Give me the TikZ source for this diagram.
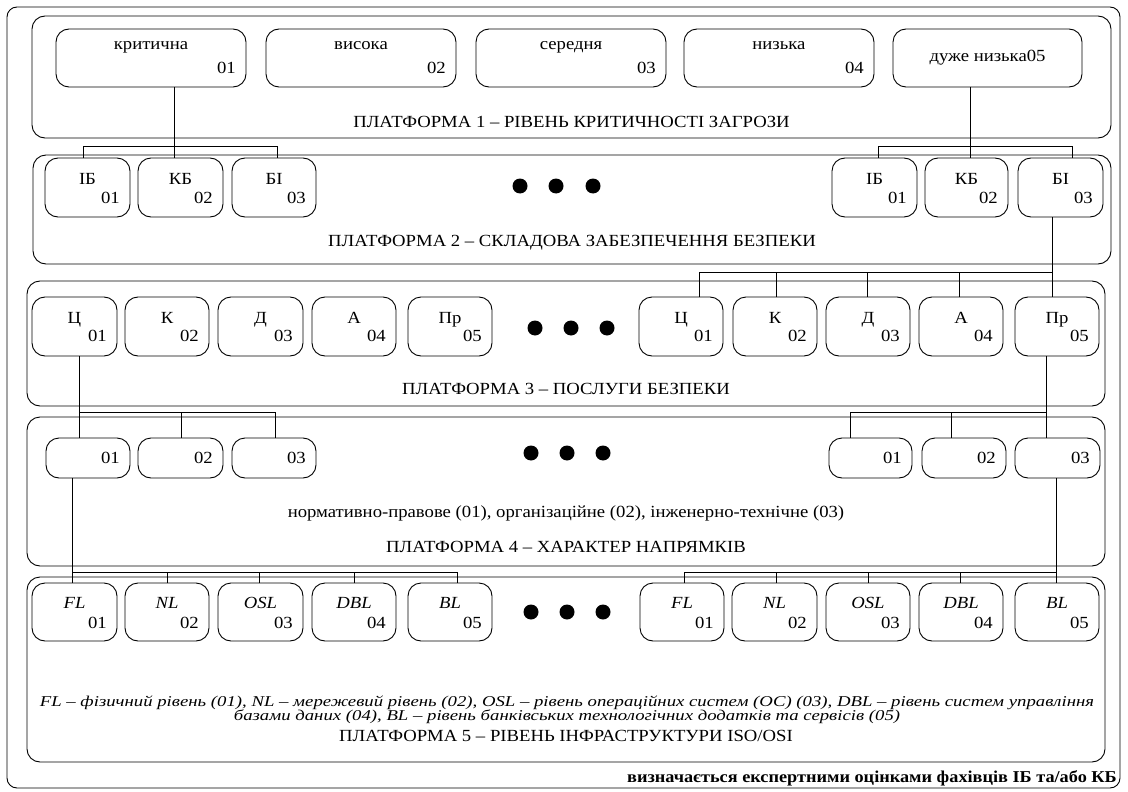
\documentclass[tikz,border=0pt]{standalone}
\usepackage{fontspec}
\setmainfont{Liberation Serif}[FakeStretch=1.1]
\newfontfamily\legf{Liberation Serif}[FakeStretch=1.25]
\usetikzlibrary{calc}
\newcommand\bxa[9]{%
  \node[bx, minimum width={(#4-#2)*1pt}, minimum height={(#5-#3)*1pt}] (#1) at ({(#2+#4)/2},{(#3+#5)/2}) {};
  \node[txt] (#1-l) at ([yshift=-#8pt]#1.north) {#6};
  \node[txt, anchor=east] (#1-n) at ([xshift=-10pt, yshift=-#9pt]#1.north east) {#7};
}
\newcommand\bxn[6]{%
  \node[bx, minimum width={(#4-#2)*1pt}, minimum height={(#5-#3)*1pt}] (#1) at ({(#2+#4)/2},{(#3+#5)/2}) {};
  \node[txt, anchor=east] (#1-n) at ([xshift=-10pt, yshift=-2pt]#1.east) {#6};
}
\newcommand\frm[5]{%
  \node[plat, minimum width={(#4-#2)*1pt}, minimum height={(#5-#3)*1pt}] (#1) at ({(#2+#4)/2},{(#3+#5)/2}) {};
}
\tikzset{
  every node/.style={font=\fontsize{17}{20}\selectfont},
  plat/.style={draw, rounded corners=13pt, line width=0.9pt, inner sep=0, outer sep=0},
  bx/.style={draw, rounded corners=13pt, inner sep=0, outer sep=0, line width=0.9pt},
  txt/.style={inner sep=0, text height=0.7em, text depth=0pt},
  con/.style={line width=0.9pt},
  dot/.style={circle, fill, inner sep=0, minimum size=15pt},
}
\begin{document}
\begin{tikzpicture}[x=1pt, y=-1pt]
\useasboundingbox (0,0) rectangle (1128,792);
\draw[line width=0.9pt, rounded corners=10pt] (7,7) rectangle (1120,788);
% platforms
\frm{P1}{32}{16}{1111}{138}
\frm{P2}{33}{155}{1111}{264}
\frm{P3}{27}{281}{1105}{406}
\frm{P4}{27}{417}{1105}{566}
\frm{P5}{27}{577}{1105}{762}
% platform 1
\bxa{p1a}{56}{29}{246}{87}{критична}{01}{17}{41}
\bxa{p1b}{266}{29}{456}{87}{висока}{02}{17}{41}
\bxa{p1c}{476}{29}{666}{87}{середня}{03}{17}{41}
\bxa{p1d}{684}{29}{874}{87}{низька}{04}{17}{41}
\node[bx, minimum width=189pt, minimum height=58pt] (p1e) at (987.5,58) {};
\node[txt] (p1e-l) at (p1e.center) {дуже низька05};
\node (t1) at ([yshift=16pt]P1.south) {ПЛАТФОРМА 1 – РІВЕНЬ КРИТИЧНОСТІ ЗАГРОЗИ};
% platform 2
\bxa{p2a}{45}{158}{130}{217}{ІБ}{01}{23}{42}
\bxa{p2b}{138}{158}{223}{217}{КБ}{02}{23}{42}
\bxa{p2c}{232}{158}{316}{217}{БІ}{03}{23}{42}
\bxa{p2d}{832}{158}{917}{217}{ІБ}{01}{23}{42}
\bxa{p2e}{925}{158}{1008}{217}{КБ}{02}{23}{42}
\bxa{p2f}{1018}{158}{1103}{217}{БІ}{03}{23}{42}
\node[dot] (d2a) at (520,186) {};
\node[dot] (d2b) at (556,186) {};
\node[dot] (d2c) at (593,186) {};
\node (t2) at ([yshift=21pt]P2.south) {ПЛАТФОРМА 2 – СКЛАДОВА ЗАБЕЗПЕЧЕННЯ БЕЗПЕКИ};
% platform 3
\bxa{p3a}{32}{297}{117}{356}{Ц}{01}{23}{41}
\bxa{p3b}{125}{297}{209}{356}{К}{02}{23}{41}
\bxa{p3c}{218}{297}{303}{356}{Д}{03}{23}{41}
\bxa{p3d}{312}{297}{396}{356}{А}{04}{23}{41}
\bxa{p3e}{408}{297}{492}{356}{Пр}{05}{23}{41}
\bxa{p3f}{639}{297}{723}{356}{Ц}{01}{23}{41}
\bxa{p3g}{733}{297}{817}{356}{К}{02}{23}{41}
\bxa{p3h}{826}{297}{910}{356}{Д}{03}{23}{41}
\bxa{p3i}{919}{297}{1003}{356}{А}{04}{23}{41}
\bxa{p3j}{1015}{297}{1099}{356}{Пр}{05}{23}{41}
\node[dot] (d3a) at (535,328) {};
\node[dot] (d3b) at (571,328) {};
\node[dot] (d3c) at (607,328) {};
\node (t3) at ([yshift=17pt]P3.south) {ПЛАТФОРМА 3 – ПОСЛУГИ БЕЗПЕКИ};
% platform 4
\bxn{p4a}{46}{438}{130}{478}{01}
\bxn{p4b}{138}{438}{223}{478}{02}
\bxn{p4c}{232}{438}{316}{478}{03}
\bxn{p4d}{829}{438}{912}{478}{01}
\bxn{p4e}{922}{438}{1006}{478}{02}
\bxn{p4f}{1015}{438}{1100}{478}{03}
\node[dot] (d4a) at (531,453) {};
\node[dot] (d4b) at (567,453) {};
\node[dot] (d4c) at (603,453) {};
\node (t4a) at ([yshift=53pt]P4.south) {нормативно-правове (01), організаційне (02), інженерно-технічне (03)};
\node (t4) at ([yshift=19pt]P4.south) {ПЛАТФОРМА 4 – ХАРАКТЕР НАПРЯМКІВ};
% platform 5
\bxa{p5a}{32}{583}{117}{641}{\textit{FL}}{01}{22}{42}
\bxa{p5b}{125}{583}{209}{641}{\textit{NL}}{02}{22}{42}
\bxa{p5c}{218}{583}{303}{641}{\textit{OSL}}{03}{22}{42}
\bxa{p5d}{312}{583}{396}{641}{\textit{DBL}}{04}{22}{42}
\bxa{p5e}{408}{583}{492}{641}{\textit{BL}}{05}{22}{42}
\bxa{p5f}{640}{583}{724}{641}{\textit{FL}}{01}{22}{42}
\bxa{p5g}{732}{583}{817}{641}{\textit{NL}}{02}{22}{42}
\bxa{p5h}{826}{583}{910}{641}{\textit{OSL}}{03}{22}{42}
\bxa{p5i}{919}{583}{1003}{641}{\textit{DBL}}{04}{22}{42}
\bxa{p5j}{1015}{583}{1099}{641}{\textit{BL}}{05}{22}{42}
\node[dot] (d5a) at (531,612) {};
\node[dot] (d5b) at (567,612) {};
\node[dot] (d5c) at (603,612) {};
\node[align=center, inner sep=0, font=\legf\itshape\fontsize{15}{14}\selectfont] (t5a) at (567,710)
  {FL – фізичний рівень (01), NL – мережевий рівень (02), OSL – рівень операційних систем (ОС) (03), DBL – рівень систем управління\\
   базами даних (04), BL – рівень банківських технологічних додатків та сервісів (05)};
\node (t5) at ([yshift=26pt]P5.south) {ПЛАТФОРМА 5 – РІВЕНЬ ІНФРАСТРУКТУРИ ISO/OSI};
\node[anchor=east, inner sep=0, font=\bfseries\fontsize{16.6}{18}\selectfont] (foot) at (1117,778) {визначається експертними оцінками фахівців ІБ та/або КБ};
% connectors P1 -> P2
\coordinate (b2) at (0,146);
\coordinate (k2a) at ([xshift=-4.5pt]p2a.north);
\coordinate (k2b) at ([xshift=-6.5pt]p2b.north);
\coordinate (k2c) at ([xshift=3pt]p2c.north);
\draw[con] (p1a.south -| k2b) -- (k2b);
\draw[con] (k2a) |- (b2 -| k2c) -- (k2c);
\coordinate (k2d) at ([xshift=3.5pt]p2d.north);
\coordinate (k2e) at ([xshift=3.5pt]p2e.north);
\coordinate (k2f) at ([xshift=11.5pt]p2f.north);
\draw[con] (p1e.south -| k2e) -- (k2e);
\draw[con] (k2d) |- (b2 -| k2f) -- (k2f);
% P2 -> P3
\coordinate (b3) at (0,272);
\coordinate (k3f) at ([xshift=18pt]p3f.north);
\coordinate (k3g) at ([xshift=1pt]p3g.north);
\coordinate (k3h) at ([xshift=-1pt]p3h.north);
\coordinate (k3i) at ([xshift=-2pt]p3i.north);
\coordinate (k3j) at ([xshift=-5pt]p3j.north);
\draw[con] (p2f.south -| k3j) -- (k3j);
\draw[con] (k3f) |- (b3 -| k3j);
\draw[con] (k3g) -- (b3 -| k3g);
\draw[con] (k3h) -- (b3 -| k3h);
\draw[con] (k3i) -- (b3 -| k3i);
% P3 -> P4
\coordinate (b4) at (0,412);
\coordinate (k4a) at ([xshift=-9pt]p4a.north);
\coordinate (k4b) at ([xshift=0.5pt]p4b.north);
\coordinate (k4c) at ([xshift=1pt]p4c.north);
\draw[con] (p3a.south -| k4a) -- (k4a);
\draw[con] (k4a |- b4) -- (b4 -| k4c) -- (k4c);
\draw[con] (k4b) -- (b4 -| k4b);
\coordinate (k4d) at ([xshift=-20.5pt]p4d.north);
\coordinate (k4e) at ([xshift=-13pt]p4e.north);
\coordinate (k4f) at ([xshift=-11.5pt]p4f.north);
\draw[con] (p3j.south -| k4f) -- (k4f);
\draw[con] (k4d) |- (b4 -| k4f);
\draw[con] (k4e) -- (b4 -| k4e);
% P4 -> P5
\coordinate (b5) at (0,572);
\coordinate (k5a) at ([xshift=-2.5pt]p5a.north);
\coordinate (k5b) at (p5b.north);
\coordinate (k5c) at ([xshift=-1.5pt]p5c.north);
\coordinate (k5d) at (p5d.north);
\coordinate (k5e) at ([xshift=7pt]p5e.north);
\draw[con] (p4a.south -| k5a) -- (k5a);
\draw[con] (k5a |- b5) -- (b5 -| k5e) -- (k5e);
\foreach \k in {k5b,k5c,k5d} \draw[con] (\k) -- (b5 -| \k);
\coordinate (k5f) at ([xshift=2pt]p5f.north);
\coordinate (k5g) at ([xshift=1.5pt]p5g.north);
\coordinate (k5h) at (p5h.north);
\coordinate (k5i) at ([xshift=-1pt]p5i.north);
\coordinate (k5j) at ([xshift=-1pt]p5j.north);
\draw[con] (p4f.south -| k5j) -- (k5j);
\draw[con] (k5f) |- (b5 -| k5j);
\foreach \k in {k5g,k5h,k5i} \draw[con] (\k) -- (b5 -| \k);
\end{tikzpicture}
\end{document}
